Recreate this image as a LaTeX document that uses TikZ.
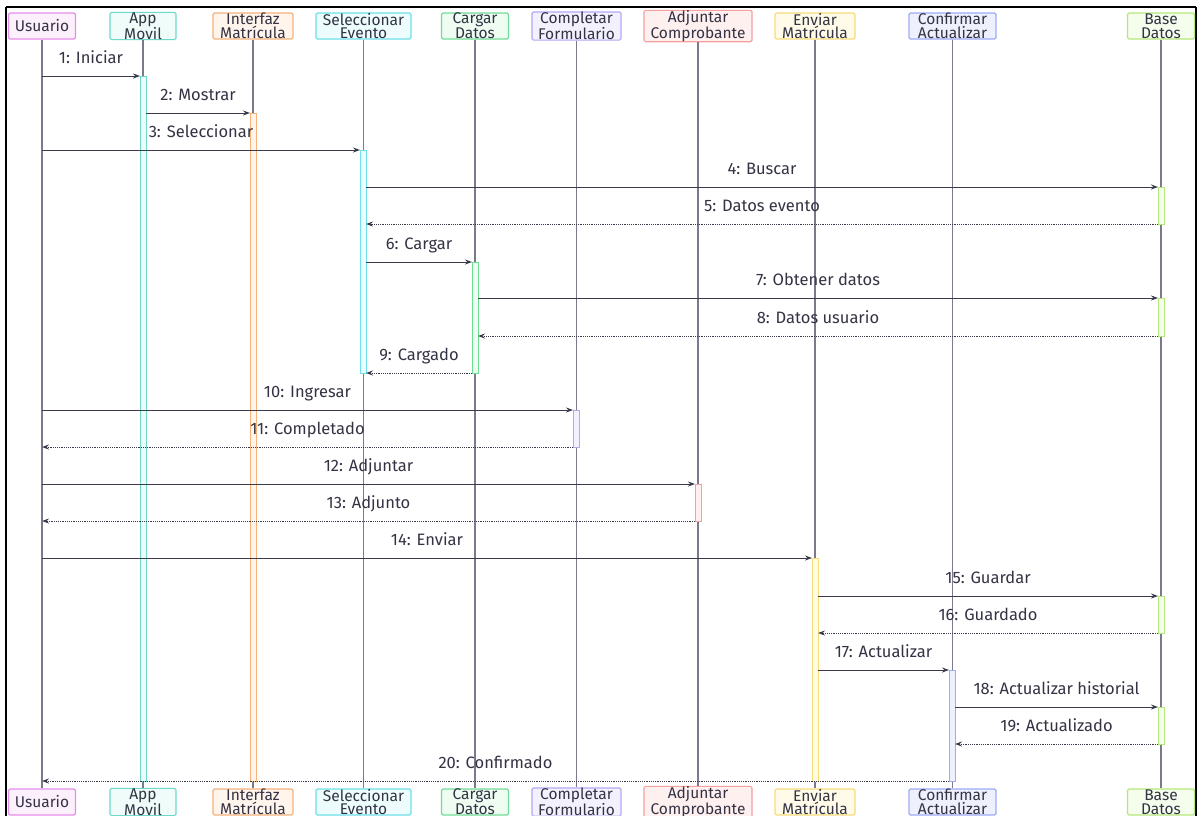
\documentclass[tikz,border=0pt]{standalone}
\usepackage{fontspec}
\setmainfont{Fira Sans}
\usetikzlibrary{arrows.meta}

% participant colours: stroke / fill
\definecolor{usrS}{HTML}{E58EE8}\definecolor{usrF}{HTML}{FDF0FD}
\definecolor{appS}{HTML}{6DD8C8}\definecolor{appF}{HTML}{EFFCF9}
\definecolor{intS}{HTML}{F5B27A}\definecolor{intF}{HTML}{FFF5EC}
\definecolor{selS}{HTML}{6DE0EA}\definecolor{selF}{HTML}{EDFCFD}
\definecolor{carS}{HTML}{6FDC95}\definecolor{carF}{HTML}{EEFCF2}
\definecolor{comS}{HTML}{B3A8F5}\definecolor{comF}{HTML}{F3F1FE}
\definecolor{adjS}{HTML}{F5A0A0}\definecolor{adjF}{HTML}{FFF0F0}
\definecolor{envS}{HTML}{F7DC7A}\definecolor{envF}{HTML}{FFFBE8}
\definecolor{conS}{HTML}{9EABF5}\definecolor{conF}{HTML}{EEF0FE}
\definecolor{basS}{HTML}{B5E87A}\definecolor{basF}{HTML}{F5FDEC}
\definecolor{txt}{HTML}{333344}
\definecolor{life}{HTML}{7A7A8C}
\definecolor{msgc}{HTML}{3A3A4A}

\tikzset{
  actor/.style={draw=#1S, fill=#1F, line width=1.2pt, rounded corners=1.5pt,
    minimum height=26pt, inner sep=0pt, text=txt,
    font=\fontsize{15.5}{13.5}\selectfont, align=center},
  lifeline/.style={draw=life, line width=1.4pt},
  actbar/.style={draw=#1S, fill=#1F, line width=0.9pt, minimum width=6pt, inner sep=0pt},
  call/.style={draw=msgc, line width=1pt, -{Stealth[length=7pt,width=5pt]}},
  reply/.style={draw=msgc, line width=1pt, dash pattern=on 1.2pt off 1pt,
    -{Stealth[length=7pt,width=5pt]}},
  lbl/.style={text=txt, font=\fontsize{16.5}{16.5}\selectfont, anchor=base, inner sep=0pt},
}

% a message from x1 to x2 at height y, with its label centred above it
\newcommand\msgarrow[6]{%
  \coordinate (#1a) at (#2,#4);
  \coordinate (#1b) at (#3,#4);
  \draw[#5] (#1a) -- (#1b) node[lbl, midway, yshift=12.5pt] {#6};}

% an activation bar on the lifeline at x between y1 and y2
\newcommand\actbar[5]{%
  \pgfmathsetmacro\abc{(#3+#4)/2}\pgfmathsetmacro\abh{#4-#3}%
  \node[actbar=#5, minimum height=\abh pt] (#1) at (#2,\abc) {};}

\begin{document}
\begin{tikzpicture}[x=1pt, y=-1pt]
\useasboundingbox (0,0) rectangle (1199,815);
\fill[white] (0,0) rectangle (1199,815);

% outer frame
\draw[black, line width=2.5pt] (6,7) -- (1196,7);
\draw[black, line width=2.5pt] (6,7) -- (6,820);
\draw[black, line width=2.5pt] (1196,7) -- (1196,820);

% participants, top row
\node[actor=usr, minimum width=67pt] (U)  at (42,26)   {Usuario};
\node[actor=app, minimum width=66pt] (A)  at (143,26)  {App\\Movil};
\node[actor=int, minimum width=80pt] (I)  at (253,26)  {Interfaz\\Matrícula};
\node[actor=sel, minimum width=95pt] (S)  at (363.5,26){Seleccionar\\Evento};
\node[actor=car, minimum width=67pt] (C)  at (475,26)  {Cargar\\Datos};
\node[actor=com, minimum width=89pt] (F)  at (576.5,26){Completar\\Formulario};
\node[actor=adj, minimum width=108pt](J)  at (698,26)  {Adjuntar\\Comprobante};
\node[actor=env, minimum width=80pt] (E)  at (815,26)  {Enviar\\Matrícula};
\node[actor=con, minimum width=87pt] (K)  at (952.5,26){Confirmar\\Actualizar};
\node[actor=bas, minimum width=67pt] (B)  at (1161,26) {Base\\Datos};

% participants, bottom row
\node[actor=usr, minimum width=67pt] (U2) at (42,802)   {Usuario};
\node[actor=app, minimum width=66pt] (A2) at (143,802)  {App\\Movil};
\node[actor=int, minimum width=80pt] (I2) at (253,802)  {Interfaz\\Matrícula};
\node[actor=sel, minimum width=95pt] (S2) at (363.5,802){Seleccionar\\Evento};
\node[actor=car, minimum width=67pt] (C2) at (475,802)  {Cargar\\Datos};
\node[actor=com, minimum width=89pt] (F2) at (576.5,802){Completar\\Formulario};
\node[actor=adj, minimum width=108pt](J2) at (698,802)  {Adjuntar\\Comprobante};
\node[actor=env, minimum width=80pt] (E2) at (815,802)  {Enviar\\Matrícula};
\node[actor=con, minimum width=87pt] (K2) at (952.5,802){Confirmar\\Actualizar};
\node[actor=bas, minimum width=67pt] (B2) at (1161,802) {Base\\Datos};

% lifelines
\foreach \p in {U,A,I,S,C,F,J,E,K,B}
  \draw[lifeline] (\p.south) -- (\p2.north);

% activation bars
\actbar{aA}{143}{76}{781}{app}
\actbar{aI}{253}{113}{781}{int}
\actbar{aS}{363}{150}{373}{sel}
\actbar{aC}{475}{262}{373}{car}
\actbar{aB1}{1161}{187}{224}{bas}
\actbar{aB2}{1161}{298}{336}{bas}
\actbar{aF}{576}{410}{447}{com}
\actbar{aJ}{698}{484}{521}{adj}
\actbar{aE}{815}{558}{781}{env}
\actbar{aB3}{1161}{596}{633}{bas}
\actbar{aK}{952}{670}{781}{con}
\actbar{aB4}{1161}{707}{744}{bas}

% messages
\msgarrow{m1}{42}{140}{76}{call}{1: Iniciar}
\msgarrow{m2}{146}{250}{113}{call}{2: Mostrar}
\msgarrow{m3}{42}{360}{150}{call}{3: Seleccionar}
\msgarrow{m4}{366}{1158}{187}{call}{4: Buscar}
\msgarrow{m5}{1158}{366}{224}{reply}{5: Datos evento}
\msgarrow{m6}{366}{472}{262}{call}{6: Cargar}
\msgarrow{m7}{478}{1158}{298}{call}{7: Obtener datos}
\msgarrow{m8}{1158}{478}{336}{reply}{8: Datos usuario}
\msgarrow{m9}{472}{366}{373}{reply}{9: Cargado}
\msgarrow{m10}{42}{573}{410}{call}{10: Ingresar}
\msgarrow{m11}{573}{42}{447}{reply}{11: Completado}
\msgarrow{m12}{42}{695}{484}{call}{12: Adjuntar}
\msgarrow{m13}{695}{42}{521}{reply}{13: Adjunto}
\msgarrow{m14}{42}{812}{558}{call}{14: Enviar}
\msgarrow{m15}{818}{1158}{596}{call}{15: Guardar}
\msgarrow{m16}{1158}{818}{633}{reply}{16: Guardado}
\msgarrow{m17}{818}{949}{670}{call}{17: Actualizar}
\msgarrow{m18}{955}{1158}{707}{call}{18: Actualizar historial}
\msgarrow{m19}{1158}{955}{744}{reply}{19: Actualizado}
\msgarrow{m20}{949}{42}{781}{reply}{20: Confirmado}
\end{tikzpicture}
\end{document}
